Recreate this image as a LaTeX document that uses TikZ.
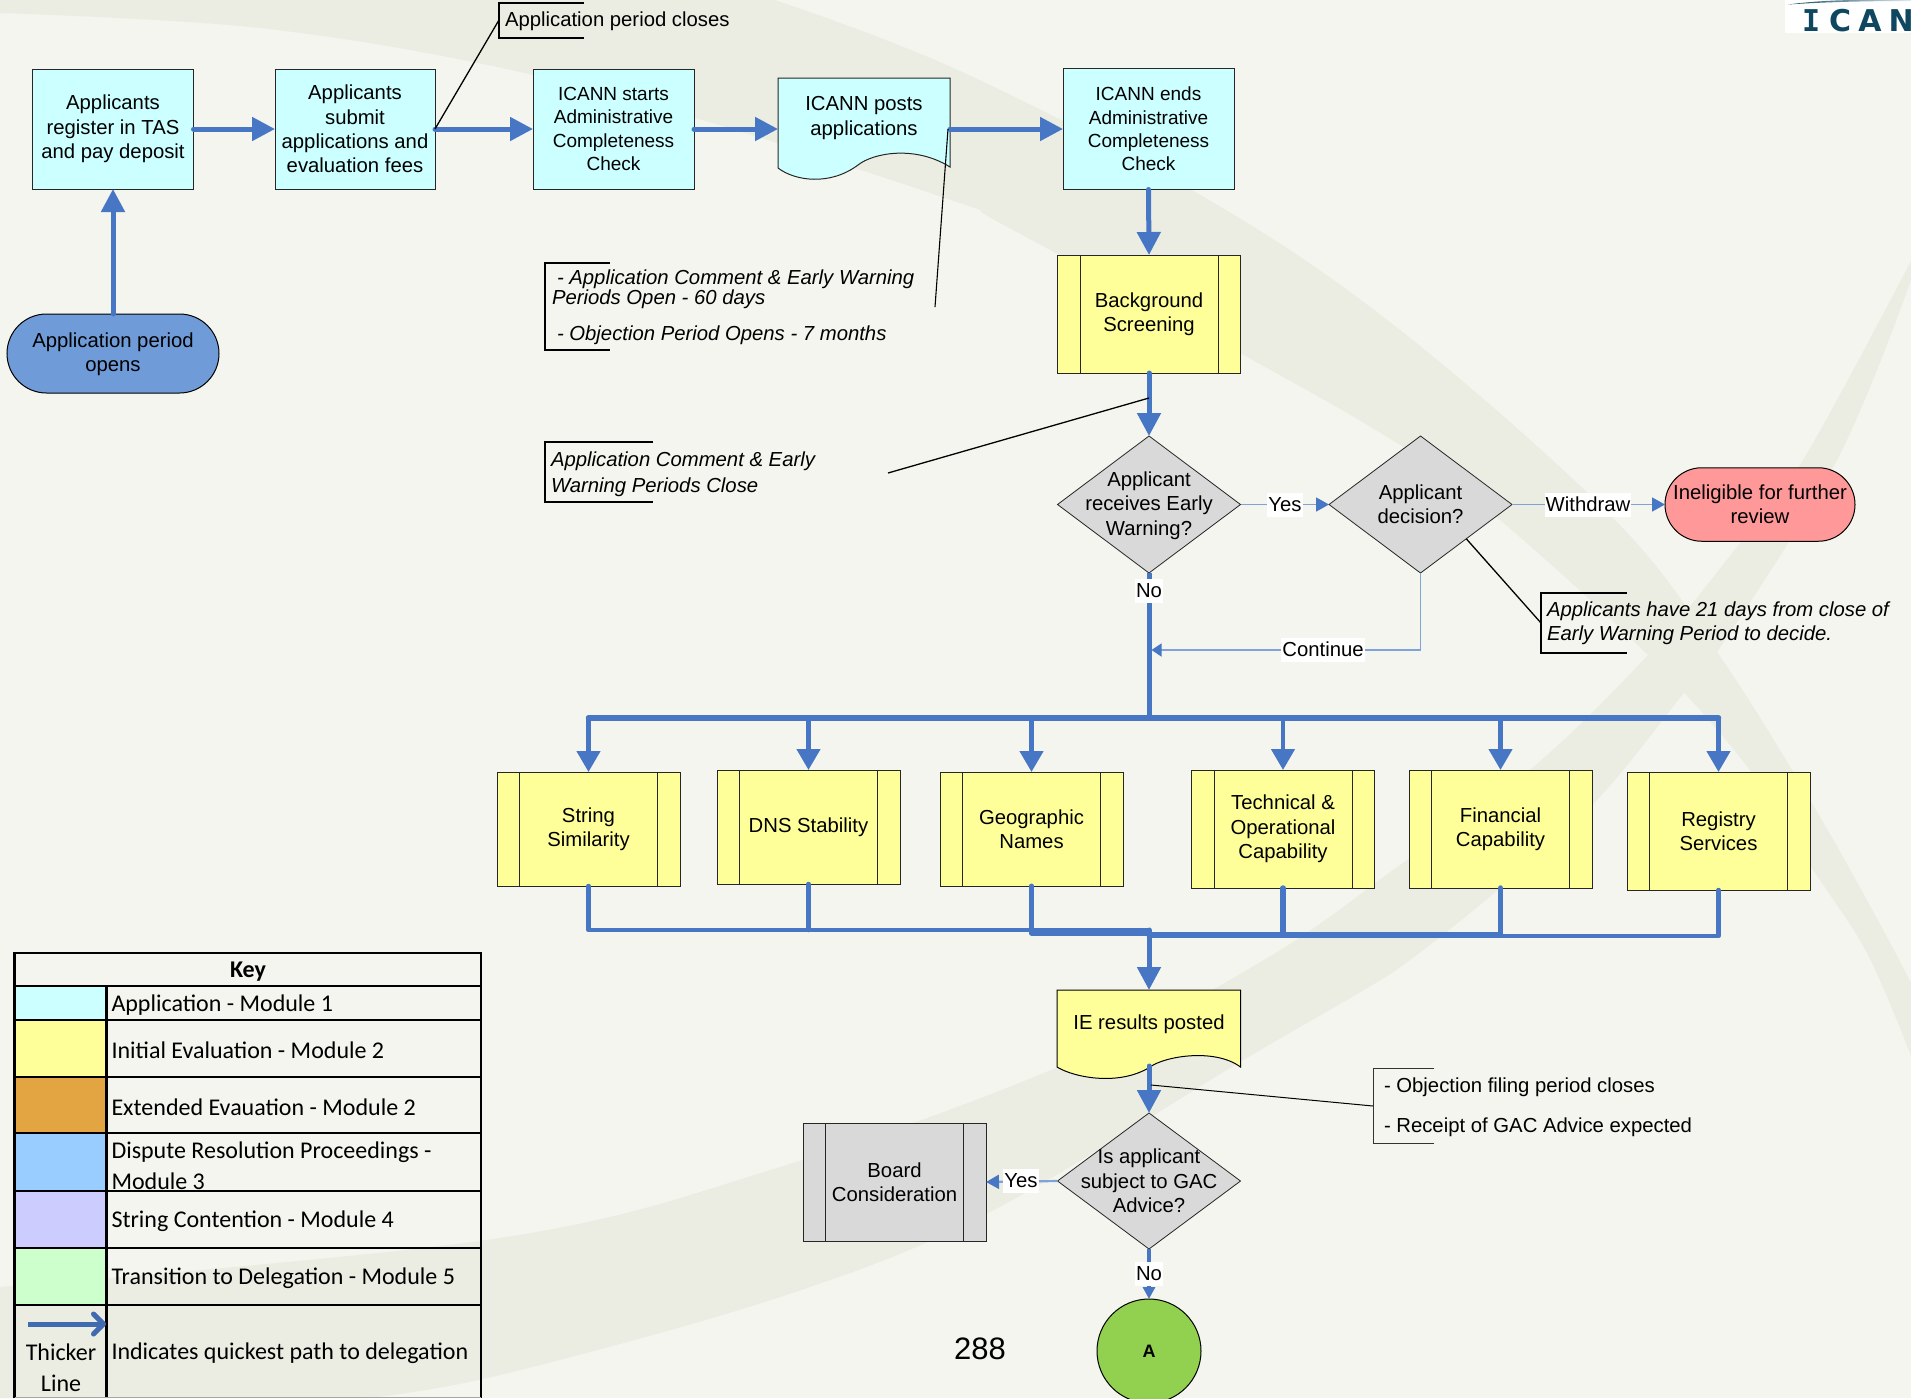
\documentclass[tikz,border=0pt]{standalone}
\usepackage{fontspec}
\setmainfont{Liberation Sans}
\newfontfamily\keyfont{Carlito}
\newfontfamily\logoi[BoldFont={DejaVu Sans Mono Bold}]{DejaVu Sans Mono}
\newfontfamily\logor[LetterSpace=24,BoldFont={DejaVu Sans Bold}]{DejaVu Sans}
\usetikzlibrary{shapes.geometric,shapes.misc,arrows.meta}
\definecolor{pagebg}{HTML}{F4F5EE}
\definecolor{bandc}{HTML}{EBEDE2}
\definecolor{flow}{HTML}{4777C4}
\definecolor{flowthin}{HTML}{7FA2D8}
\definecolor{cya}{HTML}{CCFFFF}
\definecolor{yel}{HTML}{FFFF99}
\definecolor{gry}{HTML}{D9D9D9}
\definecolor{redd}{HTML}{FF9999}
\definecolor{startc}{HTML}{6F9BD9}
\definecolor{grn}{HTML}{92D050}
\definecolor{orng}{HTML}{E3A541}
\definecolor{skyb}{HTML}{99CCFF}
\definecolor{lilac}{HTML}{CCCCFF}
\definecolor{mint}{HTML}{CCFFCC}
\definecolor{logoc}{HTML}{0F4761}
\tikzset{
  every node/.style={font=\fontsize{20.3}{24.4}\selectfont,inner sep=0pt,outer sep=0pt,align=center,text=black},
  boxa/.style={draw=black!85,line width=1pt,rectangle},
  cyanbox/.style={boxa,fill=cya},
  procy/.style={boxa,fill=yel,minimum width=183pt},
  procg/.style={boxa,fill=gry,minimum width=183pt},
  hold/.style={rectangle},
  dec/.style={diamond,draw=black!85,line width=.8pt,fill=gry,minimum width=183pt},
  term/.style={rounded rectangle,draw=black,line width=1pt},
  thickflow/.style={draw=flow,line width=5pt,line cap=round,-{Triangle[length=23pt,width=23pt,fill=flow]}},
  branchflow/.style={draw=flow,line width=4.5pt,line cap=round,-{Triangle[length=21pt,width=23pt,fill=flow]}},
  busline/.style={draw=flow,line width=5.5pt,line cap=round},
  collect/.style={draw=flow,line width=4.5pt,line cap=round,line join=round},
  thinflow/.style={draw=flowthin,line width=1.6pt,-{Triangle[length=13pt,width=14pt,flow,fill=flow]}},
  elab/.style={fill=white,minimum height=24pt,inner xsep=1pt},
  leader/.style={draw=black,line width=1.3pt},
  brack/.style={draw=black,line width=1.3pt},
  notet/.style={anchor=west,align=left},
  bar/.style={draw=black!85,line width=1pt},
  keyt/.style={font=\keyfont\fontsize{24}{31}\selectfont,anchor=west,align=left},
  keyc/.style={font=\keyfont\fontsize{24}{31}\selectfont},
  keyl/.style={draw=black,line width=2.7pt},
}
\newcommand{\sidebars}[1]{%
  \draw[bar] ([xshift=22.5pt]#1.north west) -- ([xshift=22.5pt]#1.south west);
  \draw[bar] ([xshift=-22.5pt]#1.north east) -- ([xshift=-22.5pt]#1.south east);}
\begin{document}
\begin{tikzpicture}[x=1pt,y=-1pt]
\useasboundingbox (0,0) rectangle (1911,1398);
\clip (0,0) rectangle (1911,1398);
% page and background swooshes
\fill[pagebg] (0,0) rectangle (1911,1398);
\fill[bandc] (0,0) -- plot[smooth,tension=.6] coordinates {(775,0)(960,71)(1209,200)(1400,330)(1613,518)(1717,652)(1810,800)(1875,915)(1911,983)}
  -- plot[smooth,tension=.6] coordinates {(1911,1056)(1867,953)(1810,865)(1750,770)(1648,655)(1500,520)(1400,445)(1240,353)(1000,223)(960,203)(692,117)(478,63)(250,27)(0,13)} -- cycle;
\fill[bandc] plot[smooth,tension=.6] coordinates {(0,1287)(500,1238)(780,1167)(1058,1067)(1264,960)(1400,865)(1530,770)(1648,655)(1733,552)(1803,460)(1911,261)}
  -- plot[smooth,tension=.6] coordinates {(1911,280)(1837,460)(1717,652)(1683,694)(1597,800)(1500,888)(1410,960)(1357,994)(1240,1062)(988,1213)(780,1297)(500,1375)(367,1398)} -- (0,1398) -- cycle;
% logo
\fill[white] (1785,0) rectangle (1911,33);
\shade[left color=logoc,right color=logoc!12!white] (1788,4.5) .. controls (1815,1) and (1840,0) .. (1860,0) -- (1911,0) -- (1911,1) .. controls (1865,1) and (1825,2) .. (1788,4.5) -- cycle;
\node[anchor=west,text=logoc] (logo) at (1802,21) {\fontsize{30}{30}\selectfont\bfseries{\logoi I}\hspace*{9pt}{\logor CAN}};
% first row
\node[cyanbox,minimum width=161pt,minimum height=120pt] (b1) at (113,129) {Applicants\\register in TAS\\and pay deposit};
\node[cyanbox,minimum width=160pt,minimum height=120pt] (b2) at (355,129) {Applicants\\submit\\applications and\\evaluation fees};
\node[cyanbox,minimum width=161pt,minimum height=120pt,font=\fontsize{19}{23.3}\selectfont] (b3) at (613.5,129) {ICANN starts\\Administrative\\Completeness\\Check};
\draw[line width=1pt,draw=black!85,fill=cya] (778,78) -- (950,78) -- (950,167) .. controls (915,145) and (873,153) .. (858,165) .. controls (830,186) and (795,181) .. (778,168) -- cycle;
\node[hold,minimum width=172pt,minimum height=102pt,label={[yshift=11pt]center:ICANN posts\\applications}] (b4) at (864,129) {};
\node[cyanbox,minimum width=171pt,minimum height=121pt,font=\fontsize{19}{23.3}\selectfont] (b5) at (1148.5,129) {ICANN ends\\Administrative\\Completeness\\Check};
\node[term,fill=startc,minimum width=212pt,minimum height=79pt,label={[yshift=-1pt]center:Application period\\opens}] (st) at (113,353.5) {};
% background screening
\node[procy,minimum height=118pt,label={center:Background\\Screening}] (bg) at (1149,314) {};
\sidebars{bg}
% decisions
\node[dec,minimum height=137pt,label={[yshift=-1pt]center:Applicant\\receives Early\\Warning?}] (d1) at (1149,504.5) {};
\node[dec,minimum height=137pt,label={center:Applicant\\decision?}] (d2) at (1420.5,504.5) {};
\node[term,fill=redd,minimum width=190pt,minimum height=73.5pt] (inel) at (1760,504.5) {Ineligible for further\\review};
% evaluation boxes
\node[procy,minimum height=114pt] (s1) at (588.5,829) {String\\Similarity};
\node[procy,minimum height=114pt] (s2) at (808.5,827) {DNS Stability};
\node[procy,minimum height=114pt] (s3) at (1031.5,829) {Geographic\\Names};
\node[procy,minimum height=118pt] (s4) at (1283,829) {Technical \&\\Operational\\Capability};
\node[procy,minimum height=118pt] (s5) at (1500.5,829) {Financial\\Capability};
\node[procy,minimum height=118pt] (s6) at (1718.5,831) {Registry\\Services};
\sidebars{s1}\sidebars{s2}\sidebars{s3}\sidebars{s4}\sidebars{s5}\sidebars{s6}
% IE results
\draw[line width=1pt,draw=black,fill=yel] (1057,990) -- (1240.5,990) -- (1240.5,1067) .. controls (1215,1048) and (1165,1056) .. (1150,1067) .. controls (1120,1086) and (1075,1078) .. (1057,1067) -- cycle;
\node[hold,minimum width=183.5pt,minimum height=88pt,label={[yshift=10pt]center:IE results posted}] (ie) at (1149,1034) {};
\node[dec,minimum height=136pt,label={center:Is applicant\\subject to GAC\\Advice?}] (d3) at (1149,1181) {};
\node[procg,minimum height=118pt] (bc) at (894.5,1182) {Board\\Consideration};
\sidebars{bc}
\node[circle,draw=black,line width=1pt,fill=grn,minimum size=104pt,font=\fontsize{18}{20}\selectfont\bfseries] (ca) at (1149,1351) {A};
\node[font=\fontsize{31}{34}\selectfont] (pg) at (980,1349) {288};
% named points
\coordinate (busL) at (588.5,718);
\coordinate (busR) at (1718.5,718);
\coordinate (busT) at (1149,718);
\coordinate (joinA) at (1149,930);
\coordinate (joinB) at (1149,933);
\coordinate (joinC) at (1149,934.5);
\coordinate (joinD) at (1149,936);
\coordinate (iebot) at (1149,1066);
\coordinate (bgbot) at (1149,373);
\coordinate (contEnd) at (1151.5,650);
% flows
\draw[thickflow] (b1.east) -- (b2.west);
\draw[thickflow] (b2.east) -- (b3.west);
\draw[thickflow] (b3.east) -- (b4.west);
\draw[thickflow] (b4.east) -- (b5.west);
\draw[thickflow] (st.north) -- (b1.south);
\draw[thickflow] (b5.south) -- (bg.north);
\draw[thickflow] (bgbot) -- (d1.north);
\draw[draw=flow,line width=5pt] (d1.south) -- (busT);
\draw[busline] (busL) -- (busR);
\foreach \n in {s1,s2,s3,s4,s5,s6} {\draw[branchflow] (\n.north |- busL) -- (\n.north);}
\draw[collect] (s1.south) |- (joinA);
\draw[collect] (s2.south) -- (s2.south |- joinA);
\draw[collect,line width=5pt] (s3.south) |- (joinB);
\draw[collect,line width=5.5pt] (s4.south) |- (joinC);
\draw[collect,line width=5.5pt] (s5.south) |- (joinC);
\draw[collect] (s6.south) |- (joinD);
\draw[thickflow] (joinA) -- (ie.north);
\draw[thickflow] (iebot) -- (d3.north);
\draw[thinflow] (d1.east) -- (d2.west);
\draw[thinflow] (d2.east) -- (inel.west);
\draw[draw=flowthin,line width=1.4pt,-{Triangle[length=10pt,width=13pt,flow,fill=flow]}] (d2.south) |- (contEnd);
\draw[thinflow,line width=2.2pt] (d3.west) -- (bc.east);
\draw[draw=flow,line width=4.5pt,-{Triangle[length=12pt,width=12pt,fill=flow]}] (d3.south) -- (ca.north);
% edge labels
\node[elab] (lyes1) at (1285,504.5) {Yes};
\node[elab] (lwd) at (1588,504.5) {Withdraw};
\node[elab] (lno1) at (1149,591) {No};
\node[elab] (lcont) at (1323,649.5) {Continue};
\node[elab] (lyes2) at (1021,1181) {Yes};
\node[elab] (lno2) at (1149,1274) {No};
% callouts
\draw[brack] (583.5,3) -- (499,3) -- (499,38) -- (583.5,38);
\node[notet] (n1) at (505,21.5) {Application period closes};
\coordinate (n1p) at (499,20);
\draw[leader] (b2.east) -- (n1p);
\draw[brack] (610,263) -- (545,263) -- (545,350) -- (610,350);
\node[notet,font=\fontsize{20.3}{20}\selectfont\itshape] (n2) at (552,307) {\hspace*{5pt}- Application Comment \& Early Warning\\Periods Open - 60 days\\[16pt]\hspace*{5pt}- Objection Period Opens - 7 months};
\coordinate (n2a) at (948,129);
\coordinate (n2b) at (935,307);
\draw[leader,line width=1.1pt] (n2a) -- (n2b);
\draw[brack] (653,442) -- (545,442) -- (545,502) -- (653,502);
\node[notet,font=\fontsize{20.3}{26}\selectfont\itshape] (n3) at (551,474) {Application Comment \& Early\\Warning Periods Close};
\coordinate (n3a) at (888,473);
\coordinate (n3b) at (1149,398);
\draw[leader] (n3a) -- (n3b);
\draw[brack] (1627,593) -- (1541,593) -- (1541,653) -- (1627,653);
\node[notet,font=\fontsize{20.3}{24.4}\selectfont\itshape] (n4) at (1547,623.5) {Applicants have 21 days from close of\\Early Warning Period to decide.};
\coordinate (n4p) at (1541,623);
\draw[leader] (d2.south east) -- (n4p);
\draw[brack,line width=1pt,draw=black!80] (1434,1068) -- (1373,1068) -- (1373,1143) -- (1434,1143);
\node[notet] (n5) at (1384,1107.5) {- Objection filing period closes\\[16pt]- Receipt of GAC Advice expected};
\coordinate (n5a) at (1151,1085);
\coordinate (n5b) at (1373,1106);
\draw[leader,line width=1pt] (n5a) -- (n5b);
% key table
\fill[cya] (15.5,986) rectangle (106,1020);
\fill[yel] (15.5,1020) rectangle (106,1077);
\fill[orng] (15.5,1077) rectangle (106,1133);
\fill[skyb] (15.5,1133) rectangle (106,1191);
\fill[lilac] (15.5,1191) rectangle (106,1248);
\fill[mint] (15.5,1248) rectangle (106,1305);
\draw[keyl] (14.5,1398) -- (14.5,953) -- (481,953) -- (481,1398);
\foreach \yy in {986,1020,1077,1133,1191,1248,1305} {\draw[keyl] (14.5,\yy) -- (481,\yy);}
\draw[keyl] (106.7,986) -- (106.7,1398);
\draw[draw=black!35,line width=1pt] (14.5,1397.5) -- (481,1397.5);
\node[keyc,font=\keyfont\fontsize{24}{31}\selectfont\bfseries] (k0) at (248,972) {Key};
\node[keyt] (k1) at (111.5,1005.5) {Application - Module 1};
\node[keyt] (k2) at (111.5,1050) {Initial Evaluation - Module 2};
\node[keyt] (k3) at (111.5,1107) {Extended Evauation - Module 2};
\node[keyt] (k4) at (111.5,1165.5) {Dispute Resolution Proceedings -\\Module 3};
\node[keyt] (k5) at (111.5,1221.5) {String Contention - Module 4};
\node[keyt] (k6) at (111.5,1278.5) {Transition to Delegation - Module 5};
\node[keyt] (k7) at (111.5,1353.5) {Indicates quickest path to delegation};
\node[keyc] (k8) at (61,1368) {Thicker\\Line};
\coordinate (karA) at (28,1324);
\coordinate (karB) at (106,1324);
\draw[draw=flow!90!black,line width=5pt,-{Straight Barb[length=10pt,width=20pt,line width=5pt,round]}] (karA) -- (karB);
\end{tikzpicture}
\end{document}
